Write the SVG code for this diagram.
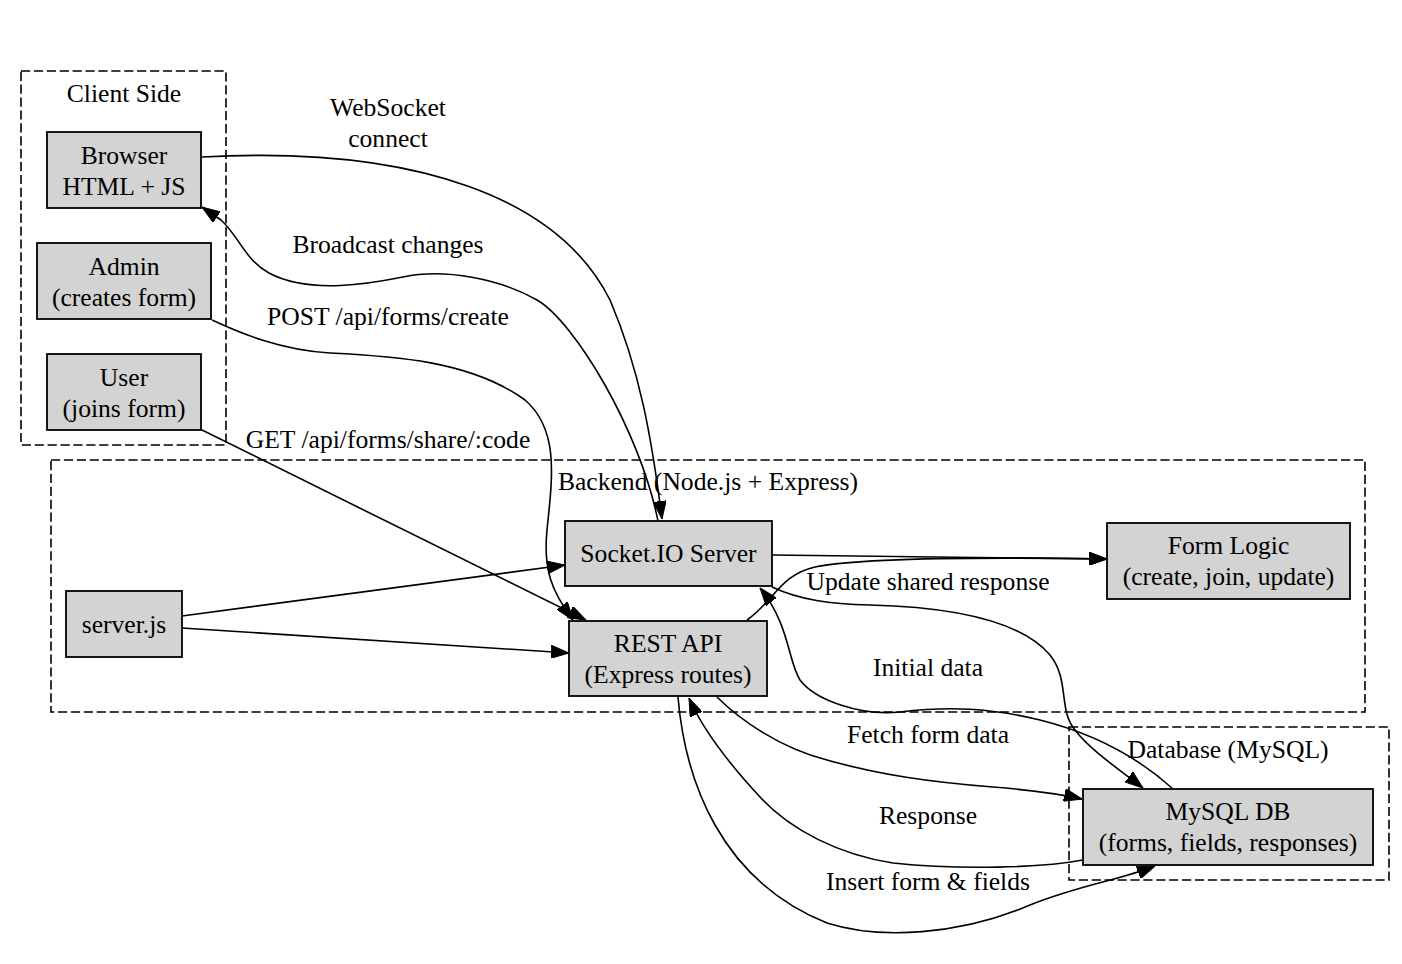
<svg xmlns="http://www.w3.org/2000/svg" width="1402" height="964" viewBox="0 0 1402 964">
<style>
text{font-family:"Liberation Serif","Times New Roman",serif;font-size:25.6px;fill:#000;text-anchor:middle}
.cluster{fill:none;stroke:#000;stroke-width:1.6;stroke-dasharray:9.2,3.7}
.node rect{fill:#d3d3d3;stroke:#000;stroke-width:1.8}
.edge{fill:none;stroke:#000;stroke-width:1.6;marker-end:url(#ah)}
</style>
<defs>
<marker id="ah" viewBox="0 0 18 13" refX="18" refY="6.5" markerWidth="18" markerHeight="13" orient="auto" markerUnits="userSpaceOnUse">
<path d="M0,0 L18,6.5 L0,13 z" fill="#000" stroke="#000" stroke-width="1"/>
</marker>
</defs>
<rect width="1402" height="964" fill="#fff"/>
<g id="cluster_client">
<rect class="cluster" x="21" y="71" width="205" height="374"/>
<text x="124" y="102">Client Side</text>
</g>
<g id="cluster_backend">
<rect class="cluster" x="51" y="460" width="1314" height="252"/>
<text x="708" y="490">Backend (Node.js + Express)</text>
</g>
<g id="cluster_db">
<rect class="cluster" x="1069" y="727" width="320" height="153"/>
<text x="1228" y="758">Database (MySQL)</text>
</g>
<g id="connectors">
<path class="edge" d="M202,157 C420,145 560,200 610,300 C640,370 652,440 662,519"/>
<path class="edge" d="M658,521 C640,431 575,322 537,300 C500,279 445,268 403,277 C373,283 310,295 269,273 C245,260 238,235 221,220 L202,207"/>
<path class="edge" d="M212,320 C240,333 280,350 330,353 C390,356 470,360 525,400 C560,430 552,480 547,530 C543,570 552,592 573,620"/>
<path class="edge" d="M202,430 L586,620"/>
<path class="edge" d="M182,616 L565,565"/>
<path class="edge" d="M182,628 L569,653"/>
<path class="edge" d="M772,555 L1107,559"/>
<path class="edge" d="M747,620 C775,600 780,575 815,567 C860,558 980,557 1107,559"/>
<path class="edge" d="M772,587 C800,600 830,604 870,605 C950,607 1020,620 1050,655 C1070,680 1058,710 1075,730 C1090,750 1120,770 1143,788"/>
<path class="edge" d="M1173,789 C1130,750 1080,730 1040,720 C990,708 950,706 900,712 C860,716 815,700 800,680 C788,662 790,625 760,588"/>
<path class="edge" d="M717,697 C740,720 780,748 827,760 C880,775 930,782 993,787 C1030,790 1060,794 1082,799"/>
<path class="edge" d="M1083,860 C1040,868 960,870 893,863 C840,855 790,830 760,797 C735,770 705,735 689,698"/>
<path class="edge" d="M678,697 C685,780 720,880 827,923 C880,940 960,935 1030,905 C1080,885 1120,880 1155,866"/>
<text x="388" y="116">WebSocket</text>
<text x="388" y="147">connect</text>
<text x="388" y="253">Broadcast changes</text>
<text x="388" y="325">POST /api/forms/create</text>
<text x="388" y="448">GET /api/forms/share/:code</text>
<text x="928" y="590">Update shared response</text>
<text x="928" y="676">Initial data</text>
<text x="928" y="743">Fetch form data</text>
<text x="928" y="824">Response</text>
<text x="928" y="890">Insert form &amp; fields</text>
</g>
<g id="browser" class="node">
<rect x="47" y="132" width="154" height="76"/>
<text x="124" y="163.5">Browser</text>
<text x="124" y="194.5">HTML + JS</text>
</g>
<g id="admin" class="node">
<rect x="37" y="243" width="174" height="76"/>
<text x="124" y="274.5">Admin</text>
<text x="124" y="305.5">(creates form)</text>
</g>
<g id="user" class="node">
<rect x="47" y="354" width="154" height="76"/>
<text x="124" y="385.5">User</text>
<text x="124" y="416.5">(joins form)</text>
</g>
<g id="serverjs" class="node">
<rect x="66" y="591" width="116" height="66"/>
<text x="124" y="632.5">server.js</text>
</g>
<g id="socketio" class="node">
<rect x="565" y="521" width="207" height="65"/>
<text x="668.5" y="562">Socket.IO Server</text>
</g>
<g id="restapi" class="node">
<rect x="569" y="621" width="198" height="75"/>
<text x="668" y="651.5">REST API</text>
<text x="668" y="682.5">(Express routes)</text>
</g>
<g id="formlogic" class="node">
<rect x="1107" y="523" width="243" height="76"/>
<text x="1228.5" y="554">Form Logic</text>
<text x="1228.5" y="585">(create, join, update)</text>
</g>
<g id="mysql" class="node">
<rect x="1083" y="789" width="290" height="76"/>
<text x="1228" y="820">MySQL DB</text>
<text x="1228" y="851">(forms, fields, responses)</text>
</g>
</svg>
